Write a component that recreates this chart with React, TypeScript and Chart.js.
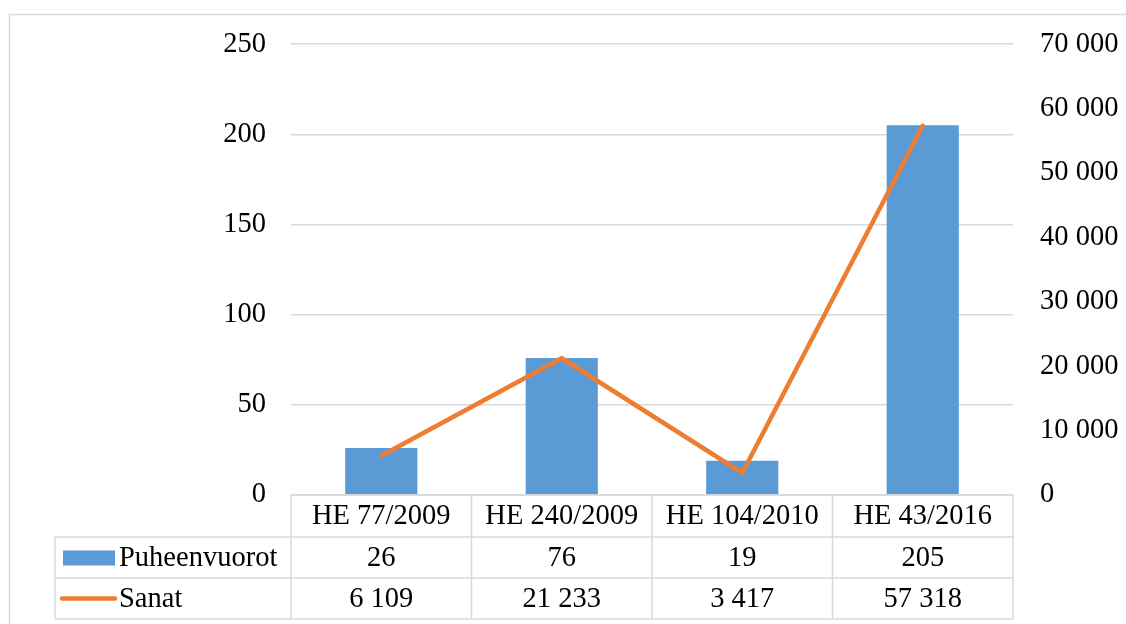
import React, { useEffect, useRef } from "react";
import { Chart, registerables } from "chart.js";

Chart.register(...registerables);

const categories = ["HE 77/2009", "HE 240/2009", "HE 104/2010", "HE 43/2016"];
const puheenvuorot = [26, 76, 19, 205];
const sanat = [6109, 21233, 3417, 57318];
const puheLabels = ["26", "76", "19", "205"];
const sanatLabels = ["6 109", "21 233", "3 417", "57 318"];
const leftTicks = [0, 50, 100, 150, 200, 250];
const rightTicks = [0, 10000, 20000, 30000, 40000, 50000, 60000, 70000];

const BAR = "#5B9BD5";
const LINE = "#ED7D31";
const GRID = "#D9D9D9";
const FONT = "'Liberation Serif', 'Times New Roman', serif";
const FS = 28.5;

const fmt = (v: number) => String(v).replace(/\B(?=(\d{3})+(?!\d))/g, " ");

const tablePlugin = {
  id: "tablePlugin",
  beforeDraw(chart: any) {
    const ctx = chart.ctx;
    ctx.save();
    ctx.strokeStyle = GRID;
    ctx.lineWidth = 1.5;
    ctx.strokeRect(9.5, 14.5, 1140, 640);
    ctx.restore();
  },
  afterDraw(chart: any) {
    const ctx = chart.ctx;
    const area = chart.chartArea;
    const x = chart.scales.x;
    const n = categories.length;
    const cw = (area.right - area.left) / n;
    const r0 = area.bottom;
    const r1 = r0 + 42;
    const r2 = r1 + 41;
    const r3 = r2 + 41;
    const legLeft = 55;
    ctx.save();
    ctx.strokeStyle = GRID;
    ctx.lineWidth = 1.5;
    ctx.beginPath();
    ctx.moveTo(area.left, r0); ctx.lineTo(area.right, r0);
    ctx.moveTo(legLeft, r1); ctx.lineTo(area.right, r1);
    ctx.moveTo(legLeft, r2); ctx.lineTo(area.right, r2);
    ctx.moveTo(legLeft, r3); ctx.lineTo(area.right, r3);
    for (let i = 0; i <= n; i++) {
      const xx = area.left + i * cw;
      ctx.moveTo(xx, r0); ctx.lineTo(xx, r3);
    }
    ctx.moveTo(legLeft, r1); ctx.lineTo(legLeft, r3);
    ctx.stroke();

    ctx.fillStyle = "#000";
    ctx.font = `${FS}px ${FONT}`;
    ctx.textAlign = "center";
    ctx.textBaseline = "middle";
    for (let i = 0; i < n; i++) {
      const cx = x.getPixelForValue(i);
      ctx.fillText(categories[i], cx, (r0 + r1) / 2 + 1);
      ctx.fillText(puheLabels[i], cx, (r1 + r2) / 2 + 1);
      ctx.fillText(sanatLabels[i], cx, (r2 + r3) / 2 + 1);
    }
    ctx.fillStyle = BAR;
    ctx.fillRect(63, (r1 + r2) / 2 - 7, 52, 15);
    ctx.strokeStyle = LINE;
    ctx.lineWidth = 4.5;
    ctx.lineCap = "round";
    ctx.beginPath();
    ctx.moveTo(62, (r2 + r3) / 2);
    ctx.lineTo(115, (r2 + r3) / 2);
    ctx.stroke();
    ctx.fillStyle = "#000";
    ctx.textAlign = "left";
    ctx.fillText("Puheenvuorot", 119, (r1 + r2) / 2 + 1);
    ctx.fillText("Sanat", 119, (r2 + r3) / 2 + 1);
    ctx.restore();
  },
};

export default function App() {
  const ref = useRef<HTMLCanvasElement>(null);
  useEffect(() => {
    if (!ref.current) return;
    const chart = new Chart(ref.current, {
      data: {
        labels: categories,
        datasets: [
          {
            type: "line",
            label: "Sanat",
            data: sanat,
            yAxisID: "y1",
            borderColor: LINE,
            borderWidth: 4.5,
            pointRadius: 0,
            borderCapStyle: "round",
            borderJoinStyle: "miter",
            order: 0,
          } as any,
          {
            type: "bar",
            label: "Puheenvuorot",
            data: puheenvuorot,
            yAxisID: "y",
            backgroundColor: BAR,
            categoryPercentage: 1,
            barPercentage: 0.4,
            order: 1,
          } as any,
        ],
      },
      options: {
        animation: false,
        responsive: false,
        layout: { padding: { top: 44, bottom: 129, left: 0, right: 0 } },
        plugins: { legend: { display: false }, tooltip: { enabled: false } },
        scales: {
          x: {
            display: false,
            offset: true,
            grid: { display: false },
          },
          y: {
            position: "left",
            min: 0,
            max: 250,
            afterFit: (s: any) => { s.width = 291; },
            afterBuildTicks: (s: any) => { s.ticks = leftTicks.map((v) => ({ value: v })); },
            grid: { color: GRID, lineWidth: 1.5, drawTicks: false },
            border: { display: false },
            ticks: {
              color: "#000",
              padding: 25,
              font: { family: FONT, size: FS },
            },
          },
          y1: {
            position: "right",
            min: 0,
            max: 70000,
            afterFit: (s: any) => { s.width = 1126 - 1013; },
            afterBuildTicks: (s: any) => { s.ticks = rightTicks.map((v) => ({ value: v })); },
            grid: { display: false, drawTicks: false },
            border: { display: false },
            ticks: {
              color: "#000",
              padding: 27,
              font: { family: FONT, size: FS },
              callback: (v: any) => fmt(Number(v)),
            },
          },
        },
      },
      plugins: [tablePlugin],
    });
    return () => chart.destroy();
  }, []);
  return (
    <div style={{ position: "absolute", left: 0, top: 0, width: 1126, height: 624, background: "#fff" }}>
      <canvas ref={ref} width={1126} height={624} style={{ display: "block" }} />
    </div>
  );
}
